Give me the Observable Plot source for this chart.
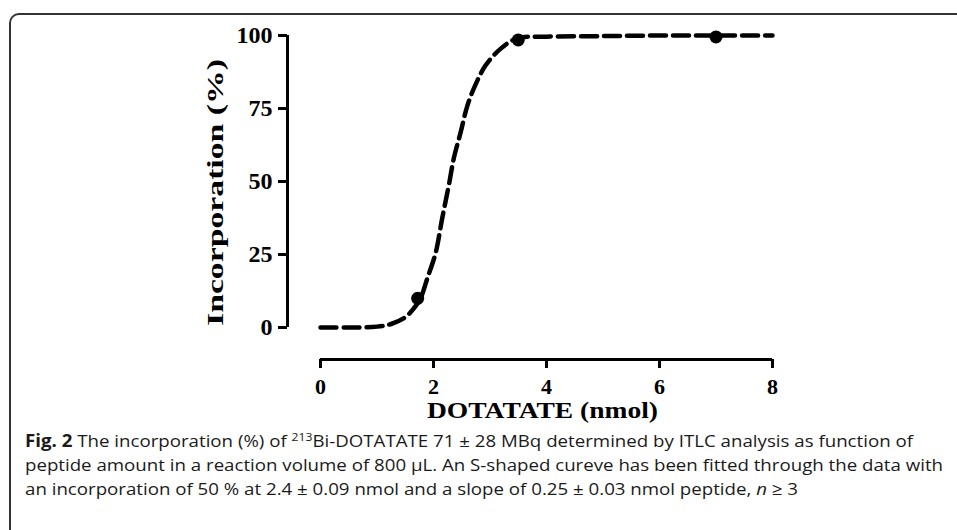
<!DOCTYPE html>
<html>
<head>
<meta charset="utf-8">
<script src="https://cdn.jsdelivr.net/npm/d3@7"></script>
<script src="https://cdn.jsdelivr.net/npm/@observablehq/plot@0.6"></script>
<style>
  html, body { margin: 0; padding: 0; background: #fff; width: 957px; height: 530px; overflow: hidden; }
  #frame { position: absolute; left: 9px; top: 13px; width: 1000px; height: 600px;
           border-top: 2px solid #333; border-left: 2px solid #333; border-top-left-radius: 10px; }
  #chart { position: absolute; left: 0; top: 0; }
  #caption { position: absolute; left: 25px; top: 0; width: 940px;
             font-family: "Open Sans", "Noto Sans", sans-serif;
             font-size: 17px; color: #1a1a1a; }
  #caption .ln { position: absolute; left: 0; white-space: nowrap; transform-origin: 0 50%; line-height: 24px; }
  #caption b { font-weight: bold; }
  #caption sup { font-size: 0.65em; line-height: 0; vertical-align: 0.55em; }
</style>
</head>
<body>
<div id="frame"></div>
<div id="chart"></div>
<div id="caption">
<div class="ln" data-w="888" style="top:429px"><b>Fig. 2</b> The incorporation (%) of <sup>213</sup>Bi-DOTATATE 71 ± 28 MBq determined by ITLC analysis as function of</div>
<div class="ln" data-w="918" style="top:453px">peptide amount in a reaction volume of 800 μL. An S-shaped cureve has been fitted through the data with</div>
<div class="ln" data-w="773" style="top:477px">an incorporation of 50 % at 2.4 ± 0.09 nmol and a slope of 0.25 ± 0.03 nmol peptide, <i>n</i> ≥ 3</div>
</div>
<script>
// Fitted curve
const curveX = [0, 0.5, 1.0, 1.25, 1.5, 1.65, 1.77, 1.89, 2.04, 2.15, 2.27, 2.36, 2.48, 2.60, 2.74, 2.92, 3.19, 3.48, 4.0, 5.0, 6.0, 7.0, 8.0];
const curveY = [0, 0, 0.3, 1.2, 3.5, 6.5, 10, 16.8, 25.7, 37, 48.6, 58, 66.8, 76, 83, 89.7, 95.5, 99, 99.6, 99.8, 100, 100, 100];
// Measured data points
const pointX = [1.72, 3.5, 7.0];
const pointY = [10, 98.5, 99.5];
// Ticks
const xTicks = [0, 2, 4, 6, 8];
const yTicks = [0, 25, 50, 75, 100];
const xTitle = "DOTATATE (nmol)";
const yTitle = "Incorporation (%)";

const curve = curveX.map((x, i) => ({x, y: curveY[i]}));
const points = pointX.map((x, i) => ({x, y: pointY[i]}));

const serif = "'Liberation Serif', 'Times New Roman', serif";

const plot = Plot.plot({
  width: 957,
  height: 420,
  marginLeft: 320,
  marginRight: 185,
  marginTop: 35,
  marginBottom: 93,
  style: { fontFamily: serif, fontWeight: "bold", fontSize: "23px", color: "#000", background: "transparent", overflow: "visible" },
  x: { domain: [0, 8] },
  y: { domain: [0, 100] },
  marks: [
    // y axis (offset to the left)
    Plot.ruleX([0], { y1: 0, y2: 100, dx: -33, strokeWidth: 3, stroke: "#000" }),
    Plot.axisY(yTicks, { anchor: "left", dx: -33, tickSize: 9, tickPadding: 6, strokeWidth: 3, label: null, fontSize: 24, fontWeight: "bold" }),
    // x axis (offset below)
    Plot.ruleY([0], { x1: 0, x2: 8, dy: 32, strokeWidth: 3, stroke: "#000" }),
    Plot.axisX(xTicks, { anchor: "bottom", dy: 32, tickSize: 9, tickPadding: 10, strokeWidth: 3, label: null, fontSize: 22, fontWeight: "bold" }),
    // axis titles
    Plot.text([xTitle], { frameAnchor: "bottom", dx: -4, dy: 90, text: d => d, fontSize: 23, fontWeight: "bold", fill: "#000" }),
    Plot.text([yTitle], { frameAnchor: "left", textAnchor: "middle", dx: -105, dy: 11, rotate: -90, text: d => d, fontSize: 23, fontWeight: "bold", fill: "#000" }),
    // fitted curve
    Plot.line(curve, { x: "x", y: "y", curve: "catmull-rom", stroke: "#000", strokeWidth: 4.5, strokeDasharray: "16,7" }),
    // data points
    Plot.dot(points, { x: "x", y: "y", r: 6.5, fill: "#000", stroke: "none" })
  ]
});
document.getElementById("chart").appendChild(plot);
// stretch titles to the reference's widths
plot.querySelectorAll("text").forEach(t => {
  if (t.textContent === xTitle) { t.setAttribute("textLength", "231"); t.setAttribute("lengthAdjust", "spacingAndGlyphs"); }
  if (t.textContent === yTitle) { t.setAttribute("textLength", "267"); t.setAttribute("lengthAdjust", "spacingAndGlyphs"); }
});
// fit caption lines to the reference's line widths
document.querySelectorAll("#caption .ln").forEach(el => {
  const w = el.getBoundingClientRect().width;
  const target = +el.dataset.w;
  el.style.transform = `scaleX(${target / w})`;
});
</script>
</body>
</html>
